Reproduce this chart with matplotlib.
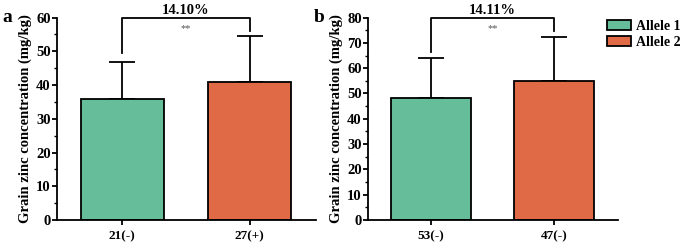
import matplotlib.pyplot as plt
from matplotlib.patches import Patch

plt.rcParams['font.family'] = 'Liberation Serif'
plt.rcParams['font.weight'] = 'bold'

# data
labels_a = ['21(-)', '27(+)']
means_a = [36.0, 41.0]
errs_a = [10.8, 13.5]
labels_b = ['53(-)', '47(-)']
means_b = [48.2, 55.0]
errs_b = [15.8, 17.2]
colors = ['#66BD9A', '#E06A45']
legend_names = ['Allele 1', 'Allele 2']


def draw_panel(ax, labels, means, errs, ymax, step, pct, leg_l, leg_r):
    x = [0, 1]
    ax.bar(x, means, width=0.65, color=colors, edgecolor='black', linewidth=1.3, zorder=2)
    ax.errorbar(x, means, yerr=[[0, 0], errs], fmt='none', ecolor='black',
                elinewidth=1.3, capsize=9.5, capthick=1.3, zorder=1)
    ax.set_xlim(-0.51, 1.52)
    ax.set_ylim(0, ymax)
    ax.set_xticks(x)
    ax.set_xticklabels(labels, fontsize=9.5, fontweight='bold')
    ax.set_yticks(range(0, ymax + 1, step))
    ax.set_yticks(range(step // 2, ymax, step), minor=True)
    ax.tick_params(axis='y', labelsize=10.5, width=1.3, length=3.5, pad=1)
    ax.tick_params(axis='y', which='minor', width=1.0, length=2)
    ax.tick_params(axis='x', width=1.3, length=3.5, pad=4)
    for lab in ax.get_yticklabels():
        lab.set_fontweight('bold')
    ax.spines['top'].set_visible(False)
    ax.spines['right'].set_visible(False)
    ax.spines['left'].set_linewidth(1.3)
    ax.spines['bottom'].set_linewidth(1.3)
    ax.set_ylabel('Grain zinc concentration (mg/kg)', fontsize=10.5, fontweight='bold', labelpad=3)
    # significance bracket
    ax.plot([0, 0, 1, 1], [leg_l, ymax, ymax, leg_r], color='black', lw=1.3, clip_on=False)
    ax.text(0.5, ymax * 1.005, pct, ha='center', va='bottom', fontsize=10.5, fontweight='bold')
    ax.text(0.5, ymax * 0.97, '**', ha='center', va='top', fontsize=7.5, color='#555555',
            fontweight='normal')


fig = plt.figure(figsize=(6.8, 2.47), dpi=100)
ax1 = fig.add_axes([0.0838, 0.109, 0.381, 0.82])
ax2 = fig.add_axes([0.541, 0.109, 0.368, 0.82])

draw_panel(ax1, labels_a, means_a, errs_a, 60, 10, '14.10%', 49.5, 56.0)
draw_panel(ax2, labels_b, means_b, errs_b, 80, 10, '14.11%', 66.4, 74.7)

fig.text(0.004, 0.93, 'a', fontsize=14, fontweight='bold', ha='left', va='center')
fig.text(0.461, 0.93, 'b', fontsize=14, fontweight='bold', ha='left', va='center')

handles = [Patch(facecolor=c, edgecolor='black', linewidth=1.3) for c in colors]
fig.legend(handles, legend_names, loc='upper left', bbox_to_anchor=(0.893, 0.92),
           frameon=False, fontsize=10, handlelength=1.7, handleheight=0.75,
           handletextpad=0.4, labelspacing=0.2, borderpad=0, borderaxespad=0)

fig.savefig('out.png', dpi=100)
